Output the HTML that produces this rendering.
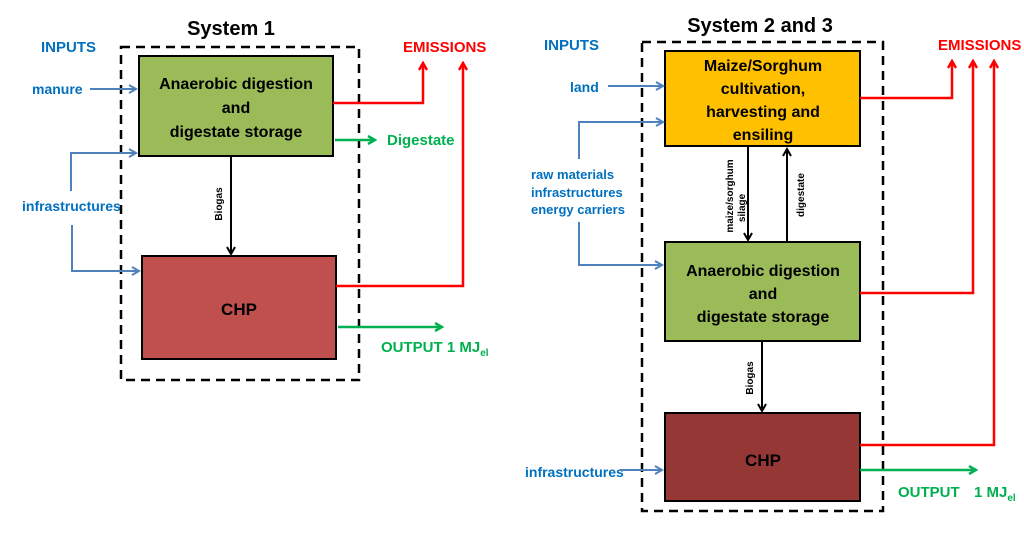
<!DOCTYPE html>
<html><head><meta charset="utf-8"><style>
html,body{margin:0;padding:0;background:#fff;}
svg{display:block;font-family:"Liberation Sans",sans-serif;font-weight:bold;}
</style></head><body>
<svg width="1024" height="546" viewBox="0 0 1024 546" xmlns="http://www.w3.org/2000/svg">
<defs>
<marker id="ab" markerWidth="10" markerHeight="10" refX="8" refY="5" orient="auto" markerUnits="userSpaceOnUse"><path d="M1,1 L8,5 L1,9" fill="none" stroke="#4f81bd" stroke-width="2"/></marker>
<marker id="ar" markerWidth="10" markerHeight="10" refX="8" refY="5" orient="auto" markerUnits="userSpaceOnUse"><path d="M1,1 L8,5 L1,9" fill="none" stroke="#ff0000" stroke-width="2.5"/></marker>
<marker id="ag" markerWidth="10" markerHeight="10" refX="8" refY="5" orient="auto" markerUnits="userSpaceOnUse"><path d="M1,1 L8,5 L1,9" fill="none" stroke="#00b050" stroke-width="2.5"/></marker>
<marker id="ak" markerWidth="10" markerHeight="10" refX="8" refY="5" orient="auto" markerUnits="userSpaceOnUse"><path d="M1,1 L8,5 L1,9" fill="none" stroke="#000" stroke-width="2"/></marker>
</defs>

<!-- System 1 -->
<text x="231" y="35" font-size="20" text-anchor="middle" fill="#000">System 1</text>
<text x="41" y="52" font-size="15" fill="#0070c0">INPUTS</text>
<text x="403" y="52" font-size="15" fill="#ff0000">EMISSIONS</text>
<rect x="121" y="47" width="238" height="333" fill="none" stroke="#000" stroke-width="2.5" stroke-dasharray="9,6"/>
<rect x="139" y="56" width="194" height="100" fill="#9bbb59" stroke="#000" stroke-width="2"/>
<text font-size="16" text-anchor="middle" fill="#000"><tspan x="236" y="89">Anaerobic digestion</tspan><tspan x="236" y="113">and</tspan><tspan x="236" y="137">digestate storage</tspan></text>
<rect x="142" y="256" width="194" height="103" fill="#c0504d" stroke="#000" stroke-width="2"/>
<text x="239" y="315" font-size="17" text-anchor="middle" fill="#000">CHP</text>
<line x1="231" y1="156" x2="231" y2="254" stroke="#000" stroke-width="2" marker-end="url(#ak)"/>
<text transform="translate(222,204) rotate(-90)" font-size="10" text-anchor="middle" fill="#000">Biogas</text>
<text x="32" y="94" font-size="14" fill="#0070c0">manure</text>
<line x1="90" y1="89" x2="136" y2="89" stroke="#4f81bd" stroke-width="2" marker-end="url(#ab)"/>
<text x="22" y="211" font-size="14" fill="#0070c0">infrastructures</text>
<polyline points="71,191 71,153 136,153" fill="none" stroke="#4f81bd" stroke-width="2" marker-end="url(#ab)"/>
<polyline points="72,225 72,271 139,271" fill="none" stroke="#4f81bd" stroke-width="2" marker-end="url(#ab)"/>
<polyline points="333,103 423,103 423,63" fill="none" stroke="#ff0000" stroke-width="2.5" marker-end="url(#ar)"/>
<polyline points="336,286 463,286 463,63" fill="none" stroke="#ff0000" stroke-width="2.5" marker-end="url(#ar)"/>
<line x1="335" y1="140" x2="375" y2="140" stroke="#00b050" stroke-width="2.5" marker-end="url(#ag)"/>
<text x="387" y="145" font-size="15" fill="#00b050">Digestate</text>
<line x1="338" y1="327" x2="442" y2="327" stroke="#00b050" stroke-width="2.5" marker-end="url(#ag)"/>
<text x="381" y="352" font-size="15" fill="#00b050">OUTPUT 1 MJ<tspan font-size="10" dy="4">el</tspan></text>

<!-- System 2 and 3 -->
<text x="760" y="32" font-size="20" text-anchor="middle" fill="#000">System 2 and 3</text>
<text x="544" y="50" font-size="15" fill="#0070c0">INPUTS</text>
<text x="938" y="50" font-size="15" fill="#ff0000">EMISSIONS</text>
<rect x="642" y="42" width="241" height="469" fill="none" stroke="#000" stroke-width="2.5" stroke-dasharray="9,6"/>
<rect x="665" y="51" width="195" height="95" fill="#ffc000" stroke="#000" stroke-width="2"/>
<text font-size="16" text-anchor="middle" fill="#000"><tspan x="763" y="71">Maize/Sorghum</tspan><tspan x="763" y="94">cultivation,</tspan><tspan x="763" y="117">harvesting and</tspan><tspan x="763" y="140">ensiling</tspan></text>
<rect x="665" y="242" width="195" height="99" fill="#9bbb59" stroke="#000" stroke-width="2"/>
<text font-size="16" text-anchor="middle" fill="#000"><tspan x="763" y="276">Anaerobic digestion</tspan><tspan x="763" y="299">and</tspan><tspan x="763" y="322">digestate storage</tspan></text>
<rect x="665" y="413" width="195" height="88" fill="#953735" stroke="#000" stroke-width="2"/>
<text x="763" y="466" font-size="17" text-anchor="middle" fill="#000">CHP</text>
<line x1="748" y1="146" x2="748" y2="240" stroke="#000" stroke-width="2" marker-end="url(#ak)"/>
<line x1="787" y1="242" x2="787" y2="149" stroke="#000" stroke-width="2" marker-end="url(#ak)"/>
<text transform="translate(733,196) rotate(-90)" font-size="10" text-anchor="middle" fill="#000">maize/sorghum</text>
<text transform="translate(745,208) rotate(-90)" font-size="10" text-anchor="middle" fill="#000">silage</text>
<text transform="translate(804,195) rotate(-90)" font-size="10" text-anchor="middle" fill="#000">digestate</text>
<line x1="762" y1="341" x2="762" y2="411" stroke="#000" stroke-width="2" marker-end="url(#ak)"/>
<text transform="translate(753,378) rotate(-90)" font-size="10" text-anchor="middle" fill="#000">Biogas</text>
<text x="570" y="92" font-size="14" fill="#0070c0">land</text>
<line x1="608" y1="86" x2="663" y2="86" stroke="#4f81bd" stroke-width="2" marker-end="url(#ab)"/>
<text font-size="13" fill="#0070c0"><tspan x="531" y="179">raw materials</tspan><tspan x="531" y="197">infrastructures</tspan><tspan x="531" y="214">energy carriers</tspan></text>
<polyline points="579,159 579,122 663,122" fill="none" stroke="#4f81bd" stroke-width="2" marker-end="url(#ab)"/>
<polyline points="579,222 579,265 662,265" fill="none" stroke="#4f81bd" stroke-width="2" marker-end="url(#ab)"/>
<text x="525" y="477" font-size="14" fill="#0070c0">infrastructures</text>
<line x1="620" y1="470" x2="662" y2="470" stroke="#4f81bd" stroke-width="2" marker-end="url(#ab)"/>
<polyline points="860,98 952,98 952,61" fill="none" stroke="#ff0000" stroke-width="2.5" marker-end="url(#ar)"/>
<polyline points="860,293 973,293 973,61" fill="none" stroke="#ff0000" stroke-width="2.5" marker-end="url(#ar)"/>
<polyline points="860,445 994,445 994,61" fill="none" stroke="#ff0000" stroke-width="2.5" marker-end="url(#ar)"/>
<line x1="860" y1="470" x2="976" y2="470" stroke="#00b050" stroke-width="2.5" marker-end="url(#ag)"/>
<text x="898" y="497" font-size="15" fill="#00b050">OUTPUT</text>
<text x="974" y="497" font-size="15" fill="#00b050">1 MJ<tspan font-size="10" dy="4">el</tspan></text>
</svg>
</body></html>
